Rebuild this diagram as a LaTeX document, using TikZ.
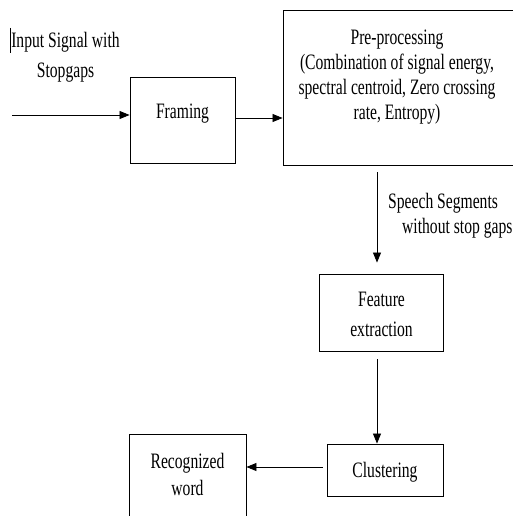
\documentclass[tikz,border=0pt]{standalone}
\usepackage{fontspec}
\setmainfont{Liberation Serif}[FakeStretch=0.71]
\usetikzlibrary{arrows.meta}

\tikzset{
	blk/.style={draw, line width=0.9pt, inner sep=0pt},
	txt/.style={inner sep=0pt, align=center, font=\fontsize{22}{25}\selectfont},
	arr/.style={line width=0.8pt, -{Triangle[length=10pt, width=8pt]}}
}

\begin{document}
\begin{tikzpicture}[x=1pt, y=-1pt]
		\clip (0, 0) rectangle (513, 516);
		
		\node[blk, minimum width=105, minimum height=86] (framing) at (182.5, 120) {};
		\node[blk, minimum width=232, minimum height=155] (preproc) at (399, 87.5) {};
		\node[blk, minimum width=124, minimum height=77] (feature) at (381, 312.5) {};
		\node[blk, minimum width=116, minimum height=52] (cluster) at (385, 470) {};
		\node[blk, minimum width=117, minimum height=86] (recog) at (187.5, 477) {};
		
		\node[txt] (framingtext) at (182.5, 113.5) {Framing};
		\node[txt] (preproctext) at (397, 77.5) {Pre-processing\\(Combination of signal energy,\\spectral centroid, Zero crossing\\rate, Entropy)};
		\node[txt, font=\fontsize{22}{30}\selectfont] (featuretext) at (381.5, 314) {Feature\\extraction};
		\node[txt] (clustertext) at (385, 472.5) {Clustering};
		\node[txt, font=\fontsize{22}{27}\selectfont] (recogtext) at (187.5, 474) {Recognized\\word};
		
		\node[txt, font=\fontsize{22}{30}\selectfont] (inputtext) at (65.5, 57) {Input Signal with\\Stopgaps};
		\node[txt, align=left, anchor=west] (segtext) at (388, 215.5) {Speech Segments\\\hspace*{14pt}without stop gaps};
		\draw[line width=0.8pt] (10.5, 28) -- (10.5, 53);
		
		\coordinate (src) at (12, 115);
		\coordinate (vline) at (377, 0);
		
		\draw[arr] (src) -- (src -| framing.west);
		\draw[arr] ([yshift=2pt]framing.east) -- ([yshift=2pt]framing.east -| preproc.west);
		\draw[arr, shorten <=7pt, shorten >=11pt] (vline |- preproc.south) -- (vline |- feature.north);
		\draw[arr, shorten <=8pt] (vline |- feature.south) -- (vline |- cluster.north);
		\draw[arr, shorten <=4pt] ([yshift=3pt]cluster.west) -- ([yshift=3pt]cluster.west -| recog.east);
	\end{tikzpicture}
\end{document}
